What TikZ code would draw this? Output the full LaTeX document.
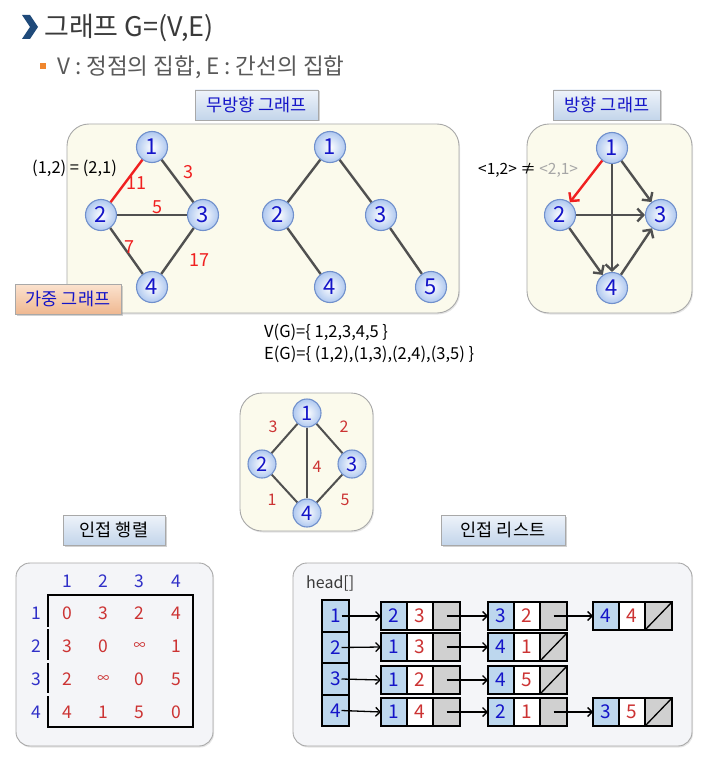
\documentclass[tikz,border=0pt]{standalone}
\usepackage{fontspec}
\setmainfont{Noto Sans CJK KR}
\usetikzlibrary{positioning,arrows.meta,shadows}

\definecolor{navy}{HTML}{1F4A7A}
\definecolor{titlegray}{HTML}{3A3A3A}
\definecolor{subgray}{HTML}{595959}
\definecolor{bulletor}{HTML}{F0862E}
\definecolor{vblue}{HTML}{1414C8}
\definecolor{vline}{HTML}{7090CC}
\definecolor{vfill}{HTML}{AFC8F0}
\definecolor{edgegray}{HTML}{505050}
\definecolor{wred}{HTML}{F02020}
\definecolor{dred}{HTML}{CC3333}
\definecolor{hblue}{HTML}{3030C8}
\definecolor{panelyel}{HTML}{FBFAEC}
\definecolor{panelgray}{HTML}{F4F5F8}
\definecolor{panelline}{HTML}{A8A8A8}
\definecolor{tagtop}{HTML}{EEF3FA}
\definecolor{tagbot}{HTML}{C3D5EA}
\definecolor{peachtop}{HTML}{FBE2CE}
\definecolor{peachbot}{HTML}{EFB891}
\definecolor{cellblue}{HTML}{BDD7EE}
\definecolor{cellgray}{HTML}{D0D0D0}

\tikzset{
  panel/.style={draw=panelline, line width=0.9pt, rounded corners=22pt,
    drop shadow={opacity=0.2, shadow xshift=1pt, shadow yshift=-1.5pt}},
  tag/.style={draw=panelline, line width=0.5pt, top color=tagtop, bottom color=tagbot,
    minimum height=30pt, inner sep=2pt, text=vblue, font=\fontsize{17.5}{17.5}\selectfont,
    drop shadow={opacity=0.35, shadow xshift=1.5pt, shadow yshift=-1.5pt}},
  vtx/.style={circle, draw=vline, line width=1.1pt, inner color=white, outer color=vfill,
    minimum size=31pt, inner sep=0pt, text=vblue, font=\fontsize{22}{22}\selectfont},
  svtx/.style={vtx, minimum size=28pt, font=\fontsize{20}{20}\selectfont},
  edge/.style={draw=edgegray, line width=2.4pt},
  arc/.style={edge, -{Straight Barb[length=6pt,width=13pt]}},
  wt/.style={text=wred, font=\fontsize{18}{18}\selectfont, inner sep=0pt},
  swt/.style={text=dred, font=\fontsize{16}{16}\selectfont, inner sep=0pt},
  plain/.style={font=\fontsize{16.5}{16.5}\selectfont, inner sep=0pt, anchor=west},
  hnum/.style={text=hblue, font=\fontsize{17.5}{17.5}\selectfont, inner sep=0pt},
  ment/.style={text=dred, font=\fontsize{17.5}{17.5}\selectfont, inner sep=0pt},
  cell/.style={draw=black, line width=1.8pt, outer sep=0pt, inner sep=0pt,
    minimum width=26pt, minimum height=28pt, font=\fontsize{19}{19}\selectfont},
  cellv/.style={cell, fill=cellblue, text=vblue},
  cellw/.style={cell, fill=white, text=dred},
  cellp/.style={cell, fill=cellgray, minimum width=27pt},
  headc/.style={cell, fill=cellblue, text=vblue, minimum width=27pt, minimum height=31.5pt},
  larr/.style={line width=1.3pt, -{Straight Barb[length=4.5pt,width=9pt]}}
}
\newcommand\inft{{\fontsize{12}{12}\selectfont ∞}}

\begin{document}
\begin{tikzpicture}[x=1pt,y=-1pt]
\useasboundingbox[fill=white] (0,0) rectangle (712,765);
% Drawing heading
\fill[navy] (22,15) -- (30,15) -- (38,27) -- (30,39) -- (22,39) -- (30,27) -- cycle;
\node[anchor=west, text=titlegray, font=\fontsize{27}{27}\selectfont, inner sep=0pt] (title) at (44,28) {그래프 G=(V,E)};
\fill[bulletor] (40,63) rectangle (46,69);
\node[anchor=west, text=subgray, font=\fontsize{22.5}{22.5}\selectfont, inner sep=0pt] (subtitle) at (57,67) {V : 정점의 집합, E : 간선의 집합};
% Drawing panels
\draw[panel, fill=panelyel] (67,124) rectangle (459,313);
\draw[panel, fill=panelyel] (527,124) rectangle (692,313);
\draw[panel, fill=panelyel] (240,393) rectangle (373,531);
\draw[panel, fill=panelgray, rounded corners=14pt] (16,563) rectangle (213,746);
\draw[panel, fill=panelgray, rounded corners=14pt] (293,563) rectangle (692,746);
% Drawing tags
\node[tag, minimum width=123pt] (tundir) at (256.5,105) {무방향 그래프};
\node[tag, minimum width=107pt] (tdir) at (607,105) {방향 그래프};
\node[tag, minimum width=102pt, text=black] (tmat) at (114,530) {인접 행렬};
\node[tag, minimum width=124pt, text=black] (tlist) at (503,530) {인접 리스트};
% Weighted graph
\node[vtx] (a1) at (152,147) {1};
\node[vtx] (a2) at (101,215) {2};
\node[vtx] (a3) at (203,215) {3};
\node[vtx] (a4) at (152,287) {4};
\draw[edge, draw=wred] (a1) -- (a2);
\draw[edge] (a1) -- (a3);
\draw[edge] (a2) -- (a3);
\draw[edge] (a2) -- (a4);
\draw[edge] (a3) -- (a4);
\node[wt] (w12) at (136,183) {11};
\node[wt] (w13) at (188,172) {3};
\node[wt] (w23) at (157,207) {5};
\node[wt] (w24) at (129,247) {7};
\node[wt] (w34) at (199,260) {17};
\node[plain] (same) at (32,168) {(1,2) = (2,1)};
\node[tag, minimum width=106pt, top color=peachtop, bottom color=peachbot] (tweight) at (68,299) {가중 그래프};
% Undirected tree
\node[vtx] (b1) at (330,147) {1};
\node[vtx] (b2) at (278,215) {2};
\node[vtx] (b3) at (381,215) {3};
\node[vtx] (b4) at (330,287) {4};
\node[vtx] (b5) at (431,287) {5};
\draw[edge] (b1) -- (b2);
\draw[edge] (b1) -- (b3);
\draw[edge] (b2) -- (b4);
\draw[edge] (b3) -- (b5);
\node[plain] (vset) at (264,332) {V(G)=\{ 1,2,3,4,5 \}};
\node[plain] (eset) at (264,354) {E(G)=\{ (1,2),(1,3),(2,4),(3,5) \}};
% Directed graph
\node[vtx] (d1) at (612,148) {1};
\node[vtx] (d2) at (560,215) {2};
\node[vtx] (d3) at (661,215) {3};
\node[vtx] (d4) at (612,288) {4};
\draw[arc, draw=wred] (d1) -- (d2);
\draw[arc] (d1) -- (d3);
\draw[arc] (d1) -- (d4);
\draw[arc] (d2) -- (d3);
\draw[arc] (d2) -- (d4);
\draw[arc] (d4) -- (d3);
\node[plain, font=\fontsize{15.5}{15.5}\selectfont] (noteq) at (478,170) {<1,2> ≠ \textcolor{gray!70}{<2,1>}};
% Small weighted graph
\node[svtx] (c1) at (307,413) {1};
\node[svtx] (c2) at (262,464) {2};
\node[svtx] (c3) at (352,464) {3};
\node[svtx] (c4) at (307,513) {4};
\draw[edge, line width=2pt] (c1) -- (c2);
\draw[edge, line width=2pt] (c1) -- (c3);
\draw[edge, line width=2pt] (c1) -- (c4);
\draw[edge, line width=2pt] (c2) -- (c4);
\draw[edge, line width=2pt] (c3) -- (c4);
\node[swt] (v12) at (273,427) {3};
\node[swt] (v13) at (344,427) {2};
\node[swt] (v14) at (317,467) {4};
\node[swt] (v24) at (272,500) {1};
\node[swt] (v34) at (345,500) {5};
% Adjacency matrix
\foreach \c in {1,...,4}
  \node[hnum] (ch\c) at ({67+36.3*(\c-1)},581) {\c};
\foreach \r/\row in {1/{0,3,2,4},2/{3,0,\inft,1},3/{2,\inft,0,5},4/{4,1,5,0}} {
  \node[hnum] (rh\r) at (36,{613+33*(\r-1)}) {\r};
  \foreach \e [count=\c] in \row
    \node[ment] (m\r\c) at ({67+36.3*(\c-1)},{613+33*(\r-1)}) {\e};
}
\draw[line width=1.3pt] (48,627) -- (48,595) -- (193,595) -- (193,727) -- (48,727) -- (48,696);
\draw[line width=1.3pt] (48,629) -- (48,660);
\draw[line width=1.3pt] (48,663) -- (48,693);
% Adjacency list
\node[anchor=west, text=titlegray, font=\fontsize{16}{16}\selectfont, inner sep=0pt] (head) at (306,583) {head[]};
\foreach \i in {1,...,4}
  \node[headc] (h\i) at (335.5,{616+31.5*(\i-1)}) {\i};
\foreach \n/\x/\y/\v/\w/\nil in {r1a/381/616/2/3/0, r1b/488/616/3/2/0, r1c/593/616/4/4/1,
    r2a/381/647/1/3/0, r2b/488/647/4/1/1,
    r3a/381/680/1/2/0, r3b/488/680/4/5/1,
    r4a/381/712/1/4/0, r4b/488/712/2/1/0, r4c/593/712/3/5/1} {
  \node[cellv, anchor=west] (\n-v) at (\x,\y) {\v};
  \node[cellw, right=0pt of \n-v] (\n-w) {\w};
  \node[cellp, right=0pt of \n-w] (\n-p) {};
  \ifnum\nil=1 \draw[line width=1.3pt] (\n-p.south west) -- (\n-p.north east); \fi
}
\foreach \i/\b in {1/r1a, 2/r2a, 3/r3a, 4/r4a}
  \draw[larr] ([xshift=6pt]h\i.center) -- (\b-v.west);
\foreach \a/\b in {r1a/r1b, r1b/r1c, r2a/r2b, r3a/r3b, r4a/r4b, r4b/r4c}
  \draw[larr] (\a-p.center) -- (\b-v.west);
% Done with list
\end{tikzpicture}
\end{document}
